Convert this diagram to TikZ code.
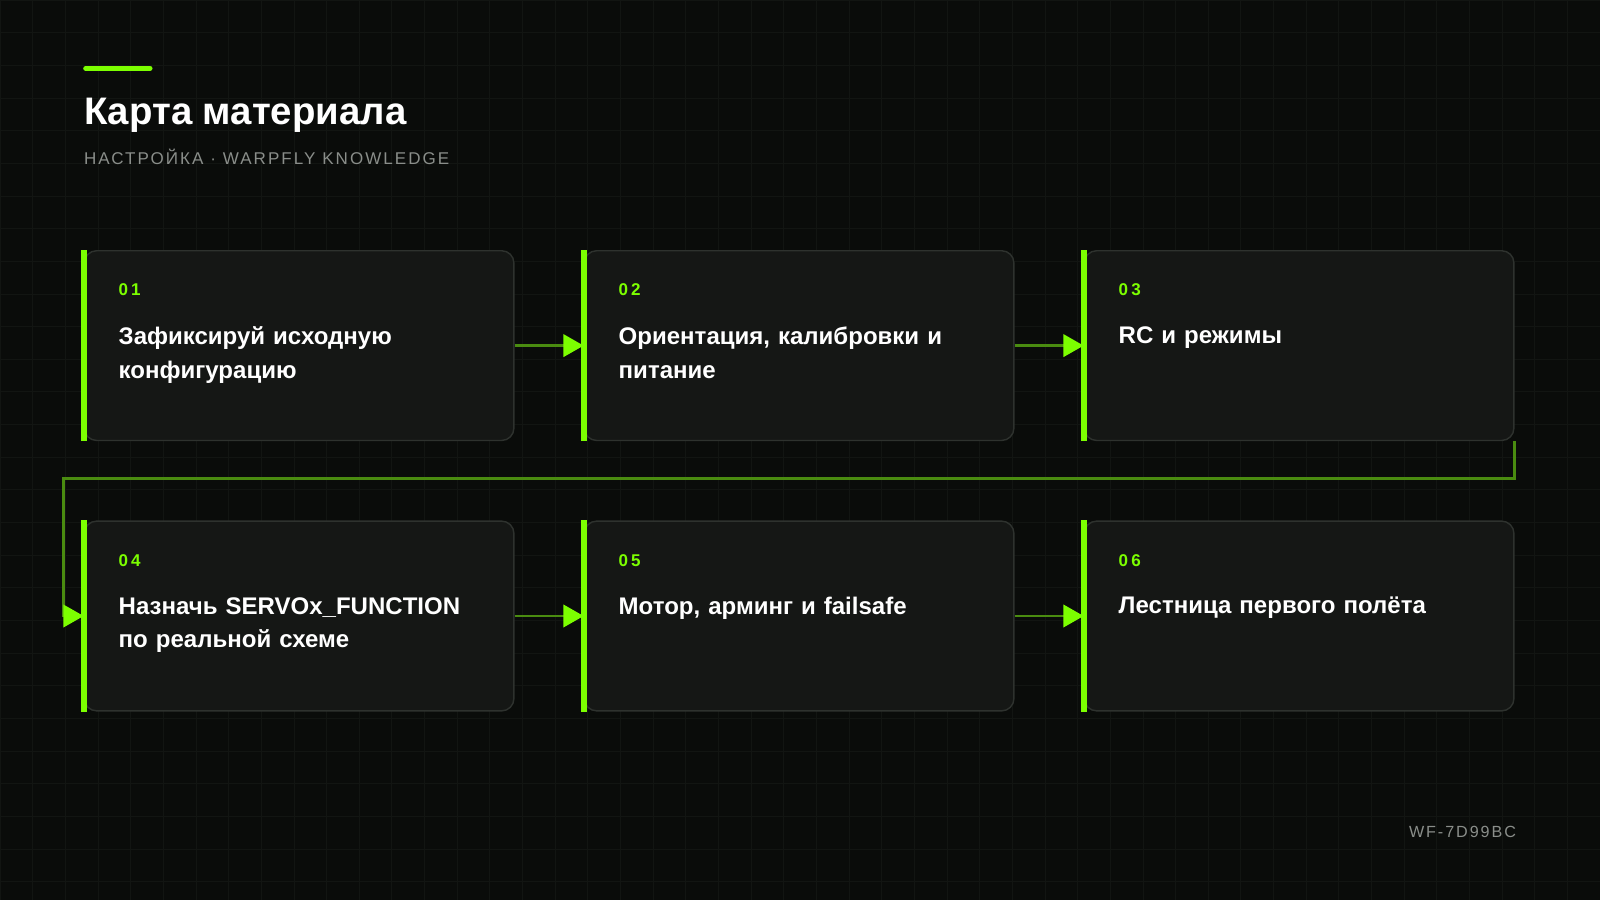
\documentclass[tikz,border=0pt]{standalone}
\usepackage{fontspec}
\setmainfont{Liberation Sans}
\usetikzlibrary{arrows.meta,positioning}
\definecolor{bg}{HTML}{0A0C0A}
\definecolor{gridc}{HTML}{121512}
\definecolor{cardfill}{HTML}{151715}
\definecolor{cardline}{HTML}{2E322E}
\definecolor{lime}{HTML}{7CFF00}
\definecolor{wire}{HTML}{4A8C10}
\definecolor{mute}{HTML}{8A8E8A}
\begin{document}
\begin{tikzpicture}[%
  x = 0.02cm, y = -0.02cm,
  card/.style = {rectangle, rounded corners = 0.24cm, draw = cardline, line width = 0.8pt,
    fill = cardfill, minimum width = 8.42cm, minimum height = 3.72cm, anchor = north west},
  stripe/.style = {draw = lime, line width = 3.4pt},
  num/.style = {text = lime, font = \bfseries\fontsize{9.5}{11}\selectfont\addfontfeature{LetterSpace=18},
    inner sep = 0pt, anchor = west},
  label/.style = {text = white, font = \bfseries\fontsize{13.4}{18.7}\selectfont, align = left,
    text width = 7.6cm, inner sep = 0pt, anchor = north west},
  link/.style = {draw = wire, line width = 1.6pt, -{Triangle[length = 0.4cm, width = 0.44cm, color = lime]}}]
  \fill[bg] (0, 0) rectangle (1568, 882);
  \useasboundingbox (0, 0) rectangle (1568, 882);
  \foreach \g in {0, 32, ..., 1568} \draw[gridc, line width = 0.4pt] (\g, 0) -- (\g, 882);
  \foreach \g in {0, 32, ..., 882} \draw[gridc, line width = 0.4pt] (0, \g) -- (1568, \g);

  % title
  \draw[lime, line width = 2.8pt, line cap = round] (84, 67) -- (147, 67);
  \node[anchor = base west, inner sep = 0pt, text = white, font = \bfseries\fontsize{21.4}{24}\selectfont] (title) at (82, 122) {Карта материала};
  \node[anchor = base west, inner sep = 0pt, text = mute, font = \fontsize{9.5}{11}\selectfont\addfontfeature{LetterSpace=12}] (sub) at (82, 161) {НАСТРОЙКА · WARPFLY KNOWLEDGE};

  % cards
  \foreach \name/\x/\y/\n/\txt in {%
    s1/82/245/01/{Зафиксируй исходную\\конфигурацию},
    s2/572/245/02/{Ориентация, калибровки и\\питание},
    s3/1062/245/03/{RC и режимы},
    s4/82/510/04/{Назначь SERVOx\_FUNCTION\\по реальной схеме},
    s5/572/510/05/{Мотор, арминг и failsafe},
    s6/1062/510/06/{Лестница первого полёта}} {
    \node[card] (\name) at (\x, \y) {};
    \draw[stripe] (\name.north west) -- (\name.south west);
    \node[num] (\name n) at ([xshift = 0.68cm, yshift = -0.78cm]\name.north west) {\n};
    \node[label] (\name t) at ([xshift = 0.68cm, yshift = -1.5cm]\name.north west) {\txt};
  }

  \draw[link] (s1) -- (s2);
  \draw[link] (s2) -- (s3);
  \draw[link] (s4) -- (s5);
  \draw[link] (s5) -- (s6);
  \coordinate (turn) at (62, 469);
  \draw[link] (s3.south east) |- (turn) |- (s4.west);

  \node[anchor = base east, inner sep = 0pt, text = mute, font = \fontsize{9}{11}\selectfont\addfontfeature{LetterSpace=12}] (tag) at (1486, 821) {WF-7D99BC};
\end{tikzpicture}
\end{document}
